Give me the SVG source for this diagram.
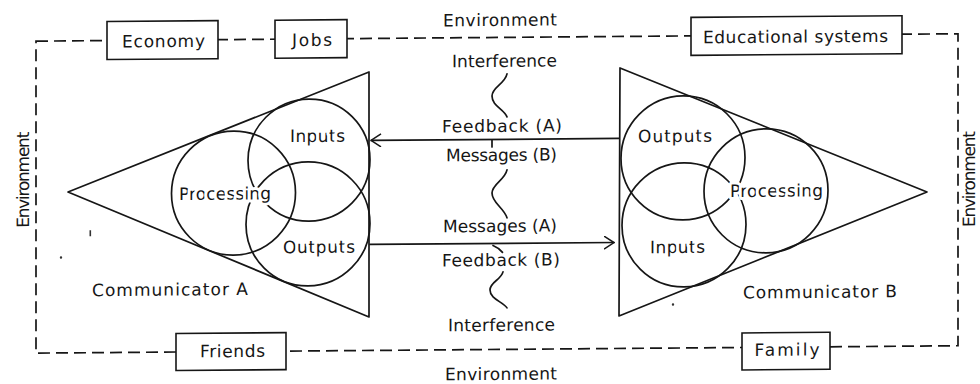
<svg xmlns="http://www.w3.org/2000/svg" width="980" height="384" viewBox="0 0 980 384">
  <style>
    .ln { fill: none; stroke: #161616; stroke-width: 1.7; stroke-linecap: round; stroke-linejoin: round; }
    .dash { fill: none; stroke: #161616; stroke-width: 1.7; stroke-dasharray: 12 6; }
    .box { fill: #ffffff; stroke: #161616; stroke-width: 1.6; }
    .t { font-family: "DejaVu Sans", "Liberation Sans", sans-serif; font-size: 17px; fill: #161616; text-anchor: middle; }
    .halo { stroke: #ffffff; stroke-width: 6; stroke-linejoin: round; paint-order: stroke; }
  </style>
  <defs>
    <marker id="arrow" viewBox="0 0 11 14" refX="10.5" refY="7" markerWidth="11" markerHeight="14" markerUnits="userSpaceOnUse" orient="auto">
      <path d="M0.5,0.5 L10.5,7 L0.5,13.5" fill="none" stroke="#161616" stroke-width="1.5"/>
    </marker>
  </defs>
  <rect width="980" height="384" fill="#ffffff"/>

  <!-- whole drawing sits on a very slight slope -->
  <g transform="matrix(1,-0.008,0,1,0,3.92)">

    <!-- environment boundary -->
    <g id="environment">
      <path class="dash" d="M36,37.5 H958 V349.5 H36 Z"/>
      <text class="t" x="500" y="26" textLength="114">Environment</text>
      <text class="t" x="501" y="380" textLength="112">Environment</text>
      <text class="t" transform="translate(29,176) rotate(-90)" textLength="96">Environment</text>
      <text class="t" transform="translate(975,183) rotate(-90)" textLength="96">Environment</text>
    </g>

    <g id="economy">
      <rect class="box" x="107" y="18.5" width="111" height="38"/>
      <text class="t" x="163.5" y="44.5" textLength="83">Economy</text>
    </g>
    <g id="jobs">
      <rect class="box" x="275" y="18.5" width="72" height="38"/>
      <text class="t" x="312" y="44.5" textLength="40">Jobs</text>
    </g>
    <g id="educational-systems">
      <rect class="box" x="691" y="19" width="211" height="38"/>
      <text class="t" x="795.5" y="45" textLength="185">Educational systems</text>
    </g>
    <g id="friends">
      <rect class="box" x="176" y="331" width="110" height="37"/>
      <text class="t" x="232.5" y="355" textLength="65">Friends</text>
    </g>
    <g id="family">
      <rect class="box" x="742" y="335" width="88" height="37"/>
      <text class="t" x="787" y="358" textLength="65">Family</text>
    </g>

    <!-- communicator A -->
    <g id="communicator-a">
      <path class="ln" d="M68,188.6 L369,71 L369,316 Z"/>
      <circle class="ln" cx="233.5" cy="191" r="62"/>
      <circle class="ln" cx="309" cy="158.6" r="61"/>
      <circle class="ln" cx="308" cy="222.5" r="62"/>
      <text class="t halo" x="317.5" y="140.5" textLength="55">Inputs</text>
      <text class="t halo" x="225" y="197.5" textLength="92">Processing</text>
      <text class="t halo" x="319" y="251.5" textLength="72">Outputs</text>
      <text class="t" x="170" y="293" textLength="156">Communicator A</text>
    </g>

    <!-- communicator B -->
    <g id="communicator-b">
      <path class="ln" d="M620,69 L927,195.5 L619,317 Z"/>
      <circle class="ln" cx="683" cy="159.5" r="62"/>
      <circle class="ln" cx="766" cy="193" r="62"/>
      <circle class="ln" cx="684" cy="226.5" r="62"/>
      <text class="t halo" x="675" y="143.5" textLength="74">Outputs</text>
      <text class="t halo" x="776.5" y="199" textLength="93">Processing</text>
      <text class="t halo" x="677.5" y="254.5" textLength="55">Inputs</text>
      <text class="t" x="820" y="300.5" textLength="154">Communicator B</text>
    </g>

    <!-- channels between the communicators -->
    <g id="connectors">
      <line class="ln" x1="619" y1="139.5" x2="371" y2="139.5" marker-end="url(#arrow)"/>
      <line class="ln" x1="370" y1="243.5" x2="614" y2="243.5" marker-end="url(#arrow)"/>
      <path class="ln" d="M492,140 L492,147"/>
      <path class="ln" d="M493,245.5 Q499,248 502.5,252.5"/>
      <!-- interference squiggles -->
      <path class="ln" d="M507,74 C505,84 492,87 492,96 C492,106 504,109 507,117"/>
      <path class="ln" d="M507,170 C505,180 492,184 492,193 C492,203 504,208 507,218"/>
      <path class="ln" d="M503,272 C501,280 490,282 490,290 C490,299 503,302 507,308"/>
    </g>

    <g id="channel-labels">
      <text class="t" x="504.5" y="67" textLength="105">Interference</text>
      <text class="t" x="502" y="132" textLength="120">Feedback (A)</text>
      <text class="t" x="501.5" y="161" textLength="111">Messages (B)</text>
      <text class="t" x="500" y="232" textLength="114">Messages (A)</text>
      <text class="t" x="501" y="266" textLength="118">Feedback (B)</text>
      <text class="t" x="501.5" y="331" textLength="107">Interference</text>
    </g>

    <!-- small stray marks -->
    <g id="marks" fill="#333">
      <rect x="89.5" y="227" width="1.6" height="6"/>
      <circle cx="61" cy="254" r="1.2"/>
      <circle cx="673" cy="306" r="1.2"/>
    </g>
  </g>
</svg>
